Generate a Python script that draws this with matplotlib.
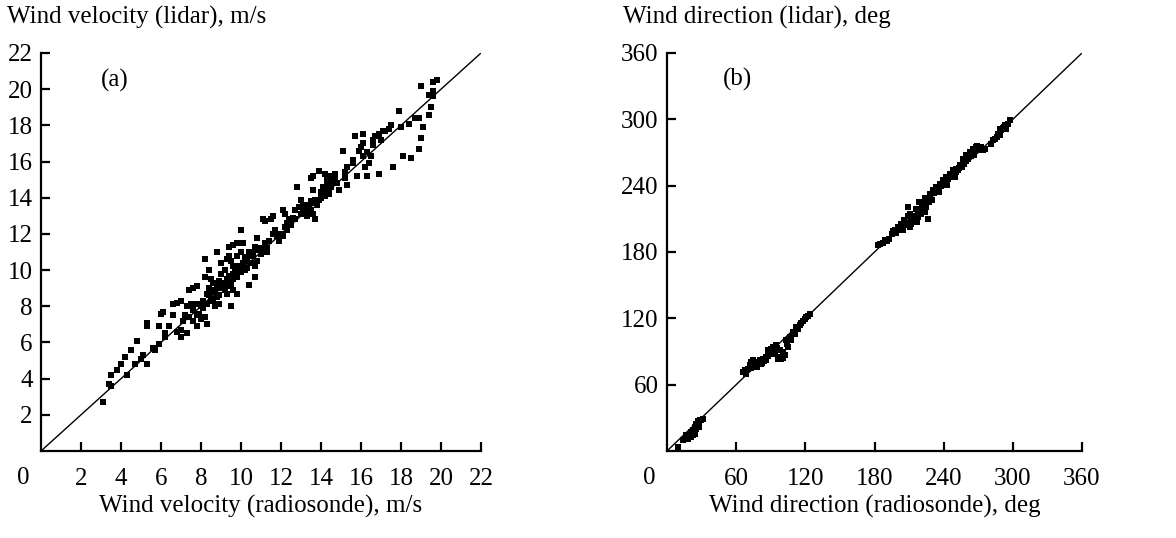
import numpy as np
import matplotlib
matplotlib.use("Agg")
import matplotlib.pyplot as plt

# (a) wind velocity, m/s: radiosonde vs lidar
vel_sonde = [3.1, 3.4, 3.5, 3.5, 3.8, 4.0, 4.3, 4.2, 4.5, 4.7, 4.8, 5.1, 5.3, 5.3, 5.3,
             5.6, 5.7, 5.9, 6.0, 6.1, 5.9, 6.2, 6.4, 6.6, 6.8, 7.0, 6.6, 6.8, 7.0, 7.0,
             7.2, 7.3, 7.4, 7.6, 7.8, 7.3, 7.5, 7.8, 7.6, 7.8, 7.9, 8.0, 8.2, 8.3, 8.2,
             8.2, 8.5, 8.3, 8.6, 8.8, 8.6, 8.7, 8.9, 8.4, 8.8, 9.0, 9.3, 9.4, 9.4, 9.6,
             9.8, 10.1, 10.0, 9.6, 9.7, 9.8, 9.3, 9.4, 9.6, 9.5, 9.8, 9.3, 9.9, 10.1, 10.2,
             10.4, 10.4, 10.7, 10.7, 10.8, 10.7, 10.8, 11.1, 11.2, 11.5, 11.6, 11.0, 11.2, 11.4, 11.6,
             11.7, 11.9, 12.1, 12.2, 12.1, 12.2, 12.3, 12.4, 12.6, 12.8, 12.7, 12.9, 13.0, 13.1, 13.2,
             13.3, 13.4, 13.6, 13.7, 13.5, 13.6, 13.6, 13.7, 13.9, 14.0, 14.1, 13.9, 14.2, 14.3, 14.4,
             14.2, 14.3, 14.5, 14.7, 14.7, 14.9, 15.1, 15.2, 15.2, 15.3, 15.3, 15.6, 15.6, 15.7, 15.8,
             15.9, 16.0, 16.1, 16.1, 16.1, 16.2, 16.3, 16.4, 16.5, 16.6, 16.7, 16.9, 16.9, 17.1, 17.2,
             17.4, 17.5, 17.6, 17.9, 18.0, 18.1, 18.5, 18.4, 18.7, 18.9, 18.9, 19.0, 19.0, 19.1, 19.4,
             19.5, 19.4, 19.6, 19.6, 19.6, 19.8,
             7.4, 7.6, 7.8, 8.0, 8.1, 8.3, 8.4, 8.5, 8.7, 8.8, 9.0, 9.1, 9.2, 9.3, 9.4,
             9.5, 9.6, 9.7, 9.9, 10.0, 10.1, 10.2, 10.3, 10.5, 10.5, 10.6, 8.9, 9.2, 9.0, 8.6,
             8.4, 9.5, 9.8, 10.0, 12.0, 12.3, 12.5, 12.7, 13.0, 13.2, 13.4, 13.5, 13.7, 13.8, 14.0,
             14.2, 14.3, 14.4, 14.6, 14.5, 14.8, 11.3, 11.8, 10.9, 16.3, 16.6, 17.0, 7.1, 6.2, 5.0,
             9.1, 9.3, 9.6, 9.8, 10.3, 10.6, 11.0, 11.3, 13.1, 13.3, 13.5, 14.1, 14.4, 8.1, 8.9]
vel_lidar = [2.7, 3.7, 3.6, 4.2, 4.5, 4.8, 4.2, 5.2, 5.6, 4.8, 6.1, 5.3, 4.8, 6.9, 7.1,
             5.7, 5.6, 6.9, 7.6, 7.7, 5.9, 6.5, 6.9, 8.1, 8.2, 8.3, 7.5, 6.6, 6.7, 6.3,
             7.5, 6.5, 8.9, 9.0, 9.1, 8.0, 8.1, 8.1, 7.2, 6.9, 7.6, 7.3, 7.4, 7.0, 10.6,
             9.6, 9.5, 8.7, 8.9, 9.1, 8.3, 8.0, 8.1, 10.0, 11.0, 10.4, 10.6, 10.8, 11.3, 11.4,
             11.5, 11.5, 12.2, 10.2, 9.8, 9.6, 9.3, 9.1, 8.9, 8.0, 8.7, 8.7, 10.2, 10.4, 10.7,
             11.0, 9.2, 9.6, 10.2, 10.5, 11.3, 11.8, 12.8, 12.7, 12.8, 13.0, 10.9, 11.5, 11.6, 12.0,
             12.2, 11.6, 11.9, 12.4, 13.3, 13.1, 12.6, 12.8, 12.9, 14.6, 13.3, 13.5, 13.9, 13.6, 13.1,
             13.0, 13.4, 13.1, 12.8, 15.1, 15.2, 14.4, 13.7, 13.9, 14.0, 14.2, 15.5, 15.3, 15.0, 14.8,
             14.5, 14.4, 14.6, 15.1, 15.3, 14.4, 16.6, 15.1, 15.4, 15.7, 14.7, 15.9, 16.1, 17.4, 15.2,
             16.6, 16.8, 17.0, 17.5, 16.3, 15.7, 15.2, 15.9, 16.3, 17.2, 17.4, 17.5, 15.3, 17.7, 17.7,
             17.8, 18.0, 15.7, 18.8, 17.9, 16.3, 16.2, 18.1, 18.4, 18.4, 16.7, 17.3, 20.2, 17.9, 18.6,
             19.0, 19.7, 19.9, 19.6, 20.4, 20.5,
             7.4, 7.8, 7.5, 8.0, 8.3, 8.1, 8.6, 8.4, 8.8, 8.5, 9.0, 9.3, 8.9, 9.5, 9.7,
             9.2, 9.8, 10.0, 10.1, 9.9, 10.3, 10.0, 10.5, 10.4, 10.8, 11.0, 9.4, 10.0, 9.8, 9.3,
             9.0, 10.5, 10.8, 11.0, 12.0, 12.2, 12.5, 12.8, 13.1, 13.3, 13.6, 13.3, 13.9, 13.6, 14.3,
             14.1, 14.8, 14.5, 14.9, 15.2, 14.8, 11.2, 11.9, 11.1, 16.5, 16.9, 17.2, 7.2, 6.3, 5.1,
             9.3, 9.2, 9.5, 10.0, 10.1, 10.8, 11.2, 11.0, 13.4, 13.2, 13.8, 14.6, 14.2, 7.9, 8.6]

# (b) wind direction, deg: radiosonde vs lidar
dir_sonde = [9.5, 13.9, 16.8, 19.7, 21.1, 22.6, 24.0, 25.4, 26.9, 28.3, 29.8, 24.0, 22.6, 18.0, 27.5,
             20.5, 25.0, 28.0, 31.0, 26.0,
             65.9, 67.4, 70.3, 73.2, 74.6, 77.5, 80.4, 83.3, 86.2, 89.0, 90.5, 92.0, 94.9, 93.4, 96.3,
             99.2, 102.0, 105.0, 107.9, 110.8, 113.6, 115.0, 118.0, 121.0, 123.8, 71.7, 76.0, 81.9, 86.2, 90.5,
             97.7, 103.5, 109.3, 112.2, 68.5, 79.0, 84.5, 88.0, 95.5, 100.5,
             72.5, 75.0, 78.5, 82.5, 85.0, 87.5, 91.5, 98.5, 101.0, 104.0, 106.5, 116.5, 119.5, 122.5,
             183.0, 184.5, 193.0, 195.0, 197.5, 200.4, 203.3, 206.0, 209.0, 209.0, 210.5, 213.4, 214.9, 216.0, 219.0,
             220.6, 226.4, 222.0, 225.0, 228.0, 230.8, 233.7, 236.6, 239.4, 242.3, 245.2, 248.0, 251.0, 254.0, 256.8,
             259.7, 262.6, 265.5, 268.4, 271.3, 274.0, 281.4, 284.3, 287.0, 290.0, 293.0, 295.8, 201.8, 204.7, 207.6,
             212.0, 217.8, 223.5, 225.0, 228.0, 191.0, 199.0, 205.5, 211.0, 218.5, 221.5, 224.0, 227.0, 231.5, 235.0,
             238.0, 241.0, 244.0, 247.0, 250.5, 253.0, 258.0, 261.0, 264.0, 267.0, 270.0, 286.0, 289.0, 292.0, 297.5,
             196.0, 202.5, 208.0, 212.5, 215.5, 219.5, 223.0, 226.0, 229.5, 232.5, 236.0, 239.5, 243.0, 246.5, 249.5,
             252.0, 255.5, 259.0, 262.0, 266.0, 269.0, 272.5, 276.0, 283.0, 288.5, 291.5, 294.5, 187.5, 189.5, 217.0]
dir_lidar = [3.6, 9.6, 14.2, 15.7, 12.7, 18.7, 21.7, 24.7, 27.1, 27.7, 28.3, 15.7, 14.2, 11.0, 22.0,
             17.0, 19.5, 24.0, 29.0, 23.5,
             71.4, 73.0, 74.5, 80.5, 82.0, 80.5, 82.0, 83.5, 85.0, 89.5, 92.6, 94.0, 95.6, 88.0, 83.5,
             83.5, 86.5, 94.0, 100.0, 106.0, 110.6, 113.6, 118.0, 121.0, 123.6, 77.5, 77.5, 79.0, 82.0, 88.0,
             91.0, 100.0, 107.6, 112.1, 70.0, 78.5, 81.0, 86.0, 93.0, 84.0,
             75.5, 79.5, 76.0, 80.0, 83.0, 91.0, 89.0, 85.0, 90.0, 97.0, 103.0, 116.0, 119.0, 122.0,
             186.0, 187.5, 192.0, 196.6, 199.6, 202.6, 205.6, 208.6, 213.0, 220.7, 202.6, 208.6, 213.0, 219.0, 225.0,
             214.6, 210.0, 220.7, 226.7, 232.7, 235.7, 238.8, 241.8, 244.8, 247.8, 250.8, 253.8, 255.3, 258.4, 264.4,
             267.4, 270.4, 273.4, 274.9, 273.4, 272.0, 278.0, 282.5, 287.0, 290.0, 294.5, 296.0, 199.6, 199.6, 204.0,
             205.6, 211.6, 216.0, 220.7, 226.7, 190.0, 197.0, 209.0, 214.0, 217.0, 223.0, 229.0, 225.0, 233.0, 237.0,
             240.0, 243.0, 246.0, 249.0, 252.0, 256.0, 260.0, 264.0, 267.0, 271.0, 272.0, 284.0, 291.0, 293.0, 299.0,
             199.0, 200.5, 206.5, 210.0, 212.0, 218.0, 221.0, 228.5, 227.0, 234.5, 234.0, 241.5, 241.0, 248.0, 247.5,
             254.0, 257.0, 262.5, 266.5, 268.0, 276.0, 275.0, 273.5, 281.0, 285.5, 292.0, 291.5, 188.0, 191.0, 207.0]

plt.rcParams['font.family'] = ['Liberation Serif', 'DejaVu Serif']
plt.rcParams['font.size'] = 18

fig = plt.figure(figsize=(11.76, 5.38), dpi=100)
ax_a = fig.add_axes([41 / 1176, 1 - 451 / 538, 440 / 1176, 398 / 538])
ax_b = fig.add_axes([667 / 1176, 1 - 451 / 538, 415 / 1176, 398 / 538])


def style_axes(ax, vmax, ticks):
    ax.set_xlim(0, vmax)
    ax.set_ylim(0, vmax)
    ax.plot([0, vmax], [0, vmax], color='black', lw=1.0, zorder=1)
    ax.spines['top'].set_visible(False)
    ax.spines['right'].set_visible(False)
    for s in ('left', 'bottom'):
        ax.spines[s].set_linewidth(1.6)
    ax.set_xticks(ticks)
    ax.set_yticks(ticks)
    ax.tick_params(axis='both', direction='in', length=6.5, width=1.6, labelsize=18)
    ax.tick_params(axis='x', pad=12)
    ax.tick_params(axis='y', pad=6)
    ax.annotate('0', xy=(0, 0), xytext=(-12.5, -19.5), textcoords='offset points',
                ha='center', va='center', fontsize=18, annotation_clip=False)


style_axes(ax_a, 22, np.arange(2, 23, 2))
ax_a.scatter(vel_sonde, vel_lidar, s=15, marker='s', color='black', linewidths=0, zorder=2)
ax_a.text(3.7, 20.5, '(a)', ha='center', va='center', fontsize=18)

style_axes(ax_b, 360, np.arange(60, 361, 60))
ax_b.scatter(dir_sonde, dir_lidar, s=15, marker='s', color='black', linewidths=0, zorder=2)
ax_b.text(61.5, 336, '(b)', ha='center', va='center', fontsize=18)

fig.text(7 / 1176, 1 - 17 / 538, 'Wind velocity (lidar), m/s', ha='left', va='center', fontsize=18)
fig.text(623 / 1176, 1 - 17 / 538, 'Wind direction (lidar), deg', ha='left', va='center', fontsize=18)
fig.text(261 / 1176, 1 - 506 / 538, 'Wind velocity (radiosonde), m/s', ha='center', va='center', fontsize=18)
fig.text(875 / 1176, 1 - 506 / 538, 'Wind direction (radiosonde), deg', ha='center', va='center', fontsize=18)

fig.savefig('out.png', dpi=100)
